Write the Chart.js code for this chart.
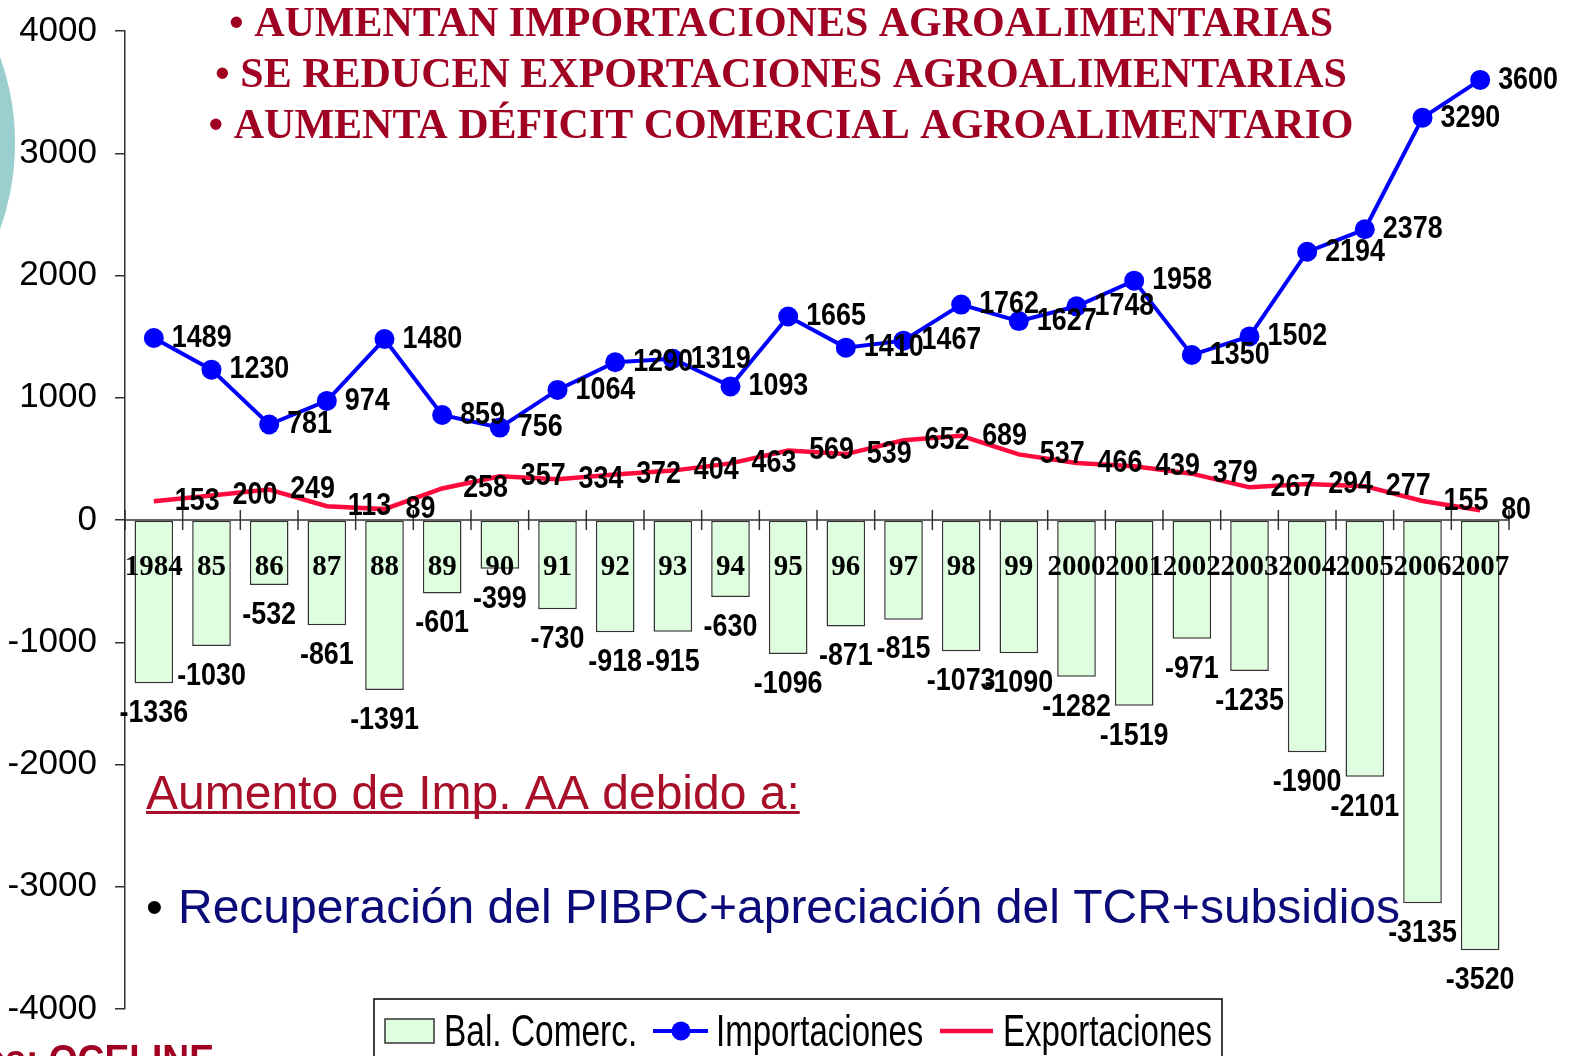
<!DOCTYPE html>
<html>
<head>
<meta charset="utf-8">
<title>Balanza comercial agroalimentaria</title>
<script src="https://cdn.jsdelivr.net/npm/chart.js@4.4.1/dist/chart.umd.min.js"></script>
<style>
  html, body { margin: 0; padding: 0; background: #fff; }
  #chart { display: block; }
</style>
</head>
<body>
<canvas id="chart" width="1572" height="1056"></canvas>
<script>
// data (millones US$)
const years = ["1984", "85", "86", "87", "88", "89", "90", "91", "92", "93", "94", "95",
  "96", "97", "98", "99", "2000", "2001", "2002", "2003", "2004", "2005", "2006", "2007"];
const importaciones = [1489, 1230, 781, 974, 1480, 859, 756, 1064, 1290, 1319, 1093, 1665,
  1410, 1467, 1762, 1627, 1748, 1958, 1350, 1502, 2194, 2378, 3290, 3600];
const exportaciones = [153, 200, 249, 113, 89, 258, 357, 334, 372, 404, 463, 569,
  539, 652, 689, 537, 466, 439, 379, 267, 294, 277, 155, 80];
const balance = [-1336, -1030, -532, -861, -1391, -601, -399, -730, -918, -915, -630, -1096,
  -871, -815, -1073, -1090, -1282, -1519, -971, -1235, -1900, -2101, -3135, -3520];
const yTicks = [4000, 3000, 2000, 1000, 0, -1000, -2000, -3000, -4000];

const titleLines = [
  "• AUMENTAN IMPORTACIONES AGROALIMENTARIAS",
  "• SE REDUCEN EXPORTACIONES AGROALIMENTARIAS",
  "• AUMENTA DÉFICIT COMERCIAL AGROALIMENTARIO"
];
const notaTitulo = "Aumento de Imp. AA debido a:";
const notaTexto = "Recuperación del PIBPC+apreciación del TCR+subsidios";
const fuente = "Fuentes: OCEI-INE";

const BLUE = "#0000FF";
const RED = "#FF0A3C";
const GREEN = "#DFFDDF";
const DARKRED = "#A00022";
const NAVY = "#0A0A78";
const SANS = "'Liberation Sans', Arial, sans-serif";
const SERIF = "'Liberation Serif', 'Times New Roman', serif";

// text with a little horizontal squeeze, like the slide
function squeezedText(ctx, text, x, y, font, color, align, hscale) {
  ctx.save();
  ctx.font = font;
  ctx.fillStyle = color;
  ctx.textAlign = align;
  ctx.textBaseline = "middle";
  ctx.translate(x, y);
  ctx.scale(hscale, 1);
  ctx.fillText(text, 0, 0);
  ctx.restore();
}

const decorPlugin = {
  id: "decor",
  beforeDraw(chart) {
    const ctx = chart.ctx;
    // teal circle from the slide template, cut by the left edge
    ctx.save();
    ctx.fillStyle = "#9BCFCF";
    ctx.beginPath();
    ctx.arc(-242, 143, 257, 0, Math.PI * 2);
    ctx.fill();
    ctx.restore();
  },
  afterDatasetsDraw(chart) {
    const ctx = chart.ctx;
    const xs = chart.scales.x;
    const ys = chart.scales.y;
    const area = chart.chartArea;
    const y0 = ys.getPixelForValue(0);

    // zero line and the crossing tick marks between categories
    ctx.save();
    ctx.strokeStyle = "#333";
    ctx.lineWidth = 1.5;
    ctx.beginPath();
    ctx.moveTo(area.left, y0);
    ctx.lineTo(area.right, y0);
    for (let i = 0; i <= years.length; i++) {
      const px = xs.getPixelForValue(i - 0.5);
      ctx.moveTo(px, y0 - 10);
      ctx.lineTo(px, y0 + 10);
    }
    ctx.stroke();
    ctx.restore();

    const labelFont = "bold 32px " + SANS;
    chart.getDatasetMeta(0).data.forEach((bar, i) => {
      squeezedText(ctx, String(balance[i]), bar.x, bar.y + 30, labelFont, "#000", "center", 0.84);
    });
    chart.getDatasetMeta(2).data.forEach((pt, i) => {
      squeezedText(ctx, String(exportaciones[i]), pt.x + 21, pt.y, labelFont, "#000", "left", 0.84);
    });
    chart.getDatasetMeta(1).data.forEach((pt, i) => {
      squeezedText(ctx, String(importaciones[i]), pt.x + 18, pt.y, labelFont, "#000", "left", 0.84);
    });
  },
  afterDraw(chart) {
    const ctx = chart.ctx;

    // headline bullets
    ctx.save();
    ctx.font = "bold 42px " + SERIF;
    ctx.fillStyle = DARKRED;
    ctx.textAlign = "center";
    ctx.textBaseline = "alphabetic";
    titleLines.forEach((t, i) => ctx.fillText(t, 781, 36 + i * 51));
    ctx.restore();

    // note under the bars
    ctx.save();
    ctx.font = "48px " + SANS;
    ctx.textBaseline = "alphabetic";
    ctx.fillStyle = "#A8102A";
    ctx.fillText(notaTitulo, 146, 809);
    const w = ctx.measureText(notaTitulo).width;
    ctx.fillRect(146, 811, w, 3);
    ctx.fillStyle = "#000";
    ctx.fillText("•", 146, 923);
    ctx.fillStyle = NAVY;
    ctx.fillText(notaTexto, 178, 923);
    ctx.restore();

    // legend box
    ctx.save();
    ctx.fillStyle = "#fff";
    ctx.strokeStyle = "#000";
    ctx.lineWidth = 1.5;
    ctx.fillRect(374, 999, 848, 70);
    ctx.strokeRect(374, 999, 848, 70);
    ctx.fillStyle = GREEN;
    ctx.strokeStyle = "#333";
    ctx.fillRect(385, 1019, 49, 24);
    ctx.strokeRect(385, 1019, 49, 24);
    ctx.strokeStyle = BLUE;
    ctx.lineWidth = 4;
    ctx.beginPath();
    ctx.moveTo(653, 1031);
    ctx.lineTo(708, 1031);
    ctx.stroke();
    ctx.fillStyle = BLUE;
    ctx.beginPath();
    ctx.arc(681, 1031, 9.5, 0, Math.PI * 2);
    ctx.fill();
    ctx.strokeStyle = RED;
    ctx.lineWidth = 4.5;
    ctx.beginPath();
    ctx.moveTo(940, 1031);
    ctx.lineTo(993, 1031);
    ctx.stroke();
    ctx.restore();
    const legFont = "44px " + SANS;
    squeezedText(ctx, "Bal. Comerc.", 444, 1034, legFont, "#000", "left", 0.76);
    squeezedText(ctx, "Importaciones", 716, 1034, legFont, "#000", "left", 0.75);
    squeezedText(ctx, "Exportaciones", 1003, 1034, legFont, "#000", "left", 0.75);

    // source, mostly cut by the bottom edge
    squeezedText(ctx, fuente, 214, 1062, "bold 40px " + SANS, DARKRED, "right", 0.93);
  }
};

new Chart(document.getElementById("chart"), {
  data: {
    labels: years,
    datasets: [
      {
        type: "bar",
        label: "Bal. Comerc.",
        data: balance,
        backgroundColor: GREEN,
        borderColor: "#333",
        borderWidth: 1.5,
        borderSkipped: false,
        barPercentage: 0.67,
        categoryPercentage: 1,
        order: 3
      },
      {
        type: "line",
        label: "Importaciones",
        data: importaciones,
        borderColor: BLUE,
        backgroundColor: BLUE,
        borderWidth: 4,
        pointRadius: 10,
        pointBorderWidth: 0,
        pointBackgroundColor: BLUE,
        tension: 0,
        order: 1
      },
      {
        type: "line",
        label: "Exportaciones",
        data: exportaciones,
        borderColor: RED,
        borderWidth: 4.5,
        pointRadius: 0,
        tension: 0,
        order: 2
      }
    ]
  },
  options: {
    responsive: false,
    devicePixelRatio: 1,
    animation: false,
    layout: { autoPadding: false, padding: { top: 31, right: 63, bottom: 47, left: 0 } },
    plugins: {
      legend: { display: false },
      tooltip: { enabled: false }
    },
    scales: {
      x: {
        type: "category",
        position: { y: 0 },
        offset: true,
        grid: { display: false, drawTicks: false },
        border: { display: false },
        ticks: {
          z: 1,
          color: "#000",
          font: { family: SERIF, size: 29, weight: "bold" },
          padding: 30,
          maxRotation: 0,
          autoSkip: false
        }
      },
      y: {
        min: -4000,
        max: 4000,
        afterBuildTicks(scale) {
          scale.ticks = yTicks.map(v => ({ value: v }));
        },
        afterFit(scale) {
          // fixed axis width; no extra room asked for the end labels
          scale.width = 125;
          scale.paddingTop = 0;
          scale.paddingBottom = 0;
        },
        grid: {
          drawOnChartArea: false,
          drawTicks: true,
          tickLength: 10,
          color: "#333",
          lineWidth: 1.5
        },
        border: { display: true, color: "#333", width: 1.5 },
        ticks: {
          color: "#000",
          font: { family: SANS, size: 35 },
          padding: 18,
          callback: v => String(v)
        }
      }
    }
  },
  plugins: [decorPlugin]
});
</script>
</body>
</html>
